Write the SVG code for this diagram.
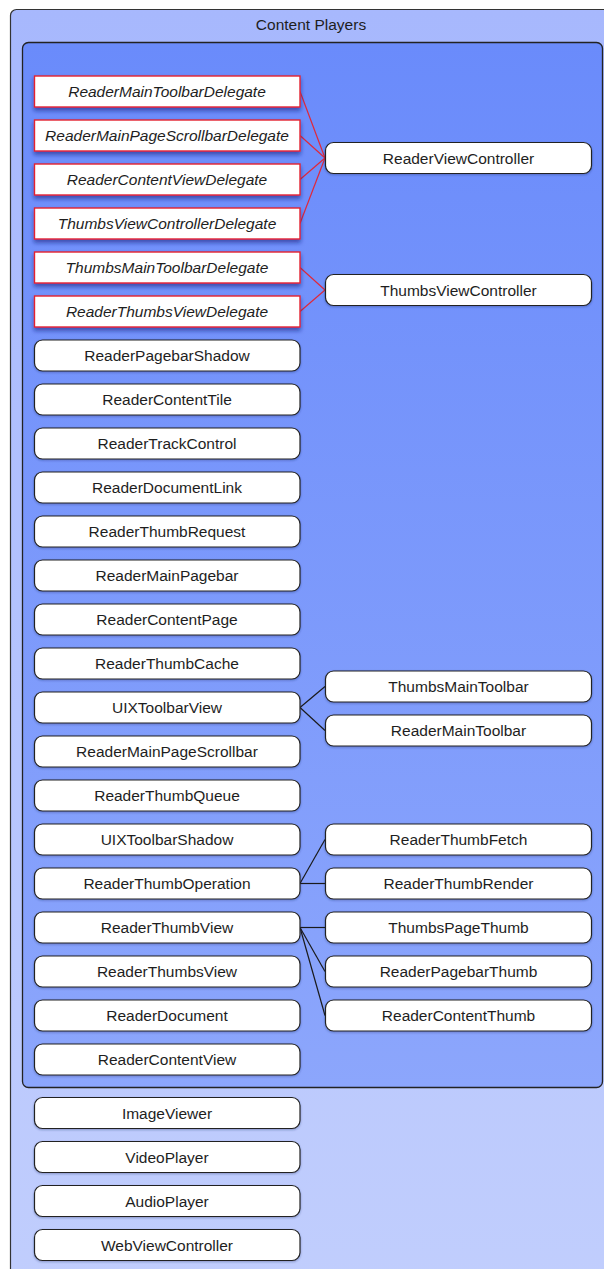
<svg xmlns="http://www.w3.org/2000/svg" width="604" height="1269" viewBox="0 0 604 1269">
  <defs>
    <linearGradient id="outerFill" x1="0" y1="0" x2="0" y2="1">
      <stop offset="0" stop-color="#a7b8fd"/>
      <stop offset="1" stop-color="#c1cefd"/>
    </linearGradient>
    <linearGradient id="innerFill" x1="0" y1="0" x2="0" y2="1">
      <stop offset="0" stop-color="#6a8bfb"/>
      <stop offset="1" stop-color="#8ca6fc"/>
    </linearGradient>
    <filter id="delegateShadow" x="-10%" y="-30%" width="120%" height="180%">
      <feDropShadow dx="0" dy="3" stdDeviation="2.2" flood-color="#14237a" flood-opacity="0.6"/>
    </filter>
    <filter id="nodeShadow" x="-10%" y="-30%" width="120%" height="180%">
      <feDropShadow dx="0" dy="1" stdDeviation="0.8" flood-color="#1a2560" flood-opacity="0.35"/>
    </filter>
  </defs>
  <style>
    text { font-family: "Liberation Sans", Arial, Helvetica, sans-serif; font-size: 15.5px; fill: #1e1e1e; text-anchor: middle; }
    .delegate rect { fill: #ffffff; stroke: #e3232f; stroke-width: 1.4; filter: url(#delegateShadow); }
    .delegate text { font-style: italic; }
    .cls rect { fill: #ffffff; stroke: #222222; stroke-width: 1.2; filter: url(#nodeShadow); }
    .red { stroke: #e0283a; stroke-width: 1.2; fill: none; }
    .blk { stroke: #1a1a1a; stroke-width: 1.2; fill: none; }
  </style>

  <!-- containers -->
  <g id="content-players">
    <rect x="10.5" y="9.5" width="640" height="1300" rx="6" fill="url(#outerFill)" stroke="#333333" stroke-width="1.2"/>
    <text x="311" y="30">Content Players</text>
  </g>
  <g id="reader-group">
    <rect x="22.5" y="42.5" width="580" height="1045" rx="6" fill="url(#innerFill)" stroke="#222222" stroke-width="1.3"/>
  </g>

  <!-- connectors -->
  <g id="connectors">
    <line class="red" x1="300" y1="91.5" x2="325" y2="158"/>
    <line class="red" x1="300" y1="135.5" x2="325" y2="158"/>
    <line class="red" x1="300" y1="179.5" x2="325" y2="158"/>
    <line class="red" x1="300" y1="223.5" x2="325" y2="158"/>
    <line class="red" x1="300" y1="267.5" x2="325" y2="290"/>
    <line class="red" x1="300" y1="311.5" x2="325" y2="290"/>
    <line class="blk" x1="300" y1="707.5" x2="325" y2="686.5"/>
    <line class="blk" x1="300" y1="707.5" x2="325" y2="730.5"/>
    <line class="blk" x1="300" y1="883.5" x2="325" y2="839.5"/>
    <line class="blk" x1="300" y1="883.5" x2="325" y2="883.5"/>
    <line class="blk" x1="300" y1="927.5" x2="325" y2="927.5"/>
    <line class="blk" x1="300" y1="927.5" x2="325" y2="971.5"/>
    <line class="blk" x1="300" y1="927.5" x2="325" y2="1015.5"/>
  </g>

  <!-- protocol delegates -->
  <g id="ReaderMainToolbarDelegate" class="delegate"><rect x="34.5" y="76" width="265.5" height="31"/><text x="167" y="97">ReaderMainToolbarDelegate</text></g>
  <g id="ReaderMainPageScrollbarDelegate" class="delegate"><rect x="34.5" y="120" width="265.5" height="31"/><text x="167" y="141">ReaderMainPageScrollbarDelegate</text></g>
  <g id="ReaderContentViewDelegate" class="delegate"><rect x="34.5" y="164" width="265.5" height="31"/><text x="167" y="185">ReaderContentViewDelegate</text></g>
  <g id="ThumbsViewControllerDelegate" class="delegate"><rect x="34.5" y="208" width="265.5" height="31"/><text x="167" y="229">ThumbsViewControllerDelegate</text></g>
  <g id="ThumbsMainToolbarDelegate" class="delegate"><rect x="34.5" y="252" width="265.5" height="31"/><text x="167" y="273">ThumbsMainToolbarDelegate</text></g>
  <g id="ReaderThumbsViewDelegate" class="delegate"><rect x="34.5" y="296" width="265.5" height="31"/><text x="167" y="317">ReaderThumbsViewDelegate</text></g>

  <!-- classes, left column -->
  <g id="ReaderPagebarShadow" class="cls"><rect x="34.5" y="340" width="265.5" height="31" rx="8"/><text x="167" y="361">ReaderPagebarShadow</text></g>
  <g id="ReaderContentTile" class="cls"><rect x="34.5" y="384" width="265.5" height="31" rx="8"/><text x="167" y="405">ReaderContentTile</text></g>
  <g id="ReaderTrackControl" class="cls"><rect x="34.5" y="428" width="265.5" height="31" rx="8"/><text x="167" y="449">ReaderTrackControl</text></g>
  <g id="ReaderDocumentLink" class="cls"><rect x="34.5" y="472" width="265.5" height="31" rx="8"/><text x="167" y="493">ReaderDocumentLink</text></g>
  <g id="ReaderThumbRequest" class="cls"><rect x="34.5" y="516" width="265.5" height="31" rx="8"/><text x="167" y="537">ReaderThumbRequest</text></g>
  <g id="ReaderMainPagebar" class="cls"><rect x="34.5" y="560" width="265.5" height="31" rx="8"/><text x="167" y="581">ReaderMainPagebar</text></g>
  <g id="ReaderContentPage" class="cls"><rect x="34.5" y="604" width="265.5" height="31" rx="8"/><text x="167" y="625">ReaderContentPage</text></g>
  <g id="ReaderThumbCache" class="cls"><rect x="34.5" y="648" width="265.5" height="31" rx="8"/><text x="167" y="669">ReaderThumbCache</text></g>
  <g id="UIXToolbarView" class="cls"><rect x="34.5" y="692" width="265.5" height="31" rx="8"/><text x="167" y="713">UIXToolbarView</text></g>
  <g id="ReaderMainPageScrollbar" class="cls"><rect x="34.5" y="736" width="265.5" height="31" rx="8"/><text x="167" y="757">ReaderMainPageScrollbar</text></g>
  <g id="ReaderThumbQueue" class="cls"><rect x="34.5" y="780" width="265.5" height="31" rx="8"/><text x="167" y="801">ReaderThumbQueue</text></g>
  <g id="UIXToolbarShadow" class="cls"><rect x="34.5" y="824" width="265.5" height="31" rx="8"/><text x="167" y="845">UIXToolbarShadow</text></g>
  <g id="ReaderThumbOperation" class="cls"><rect x="34.5" y="868" width="265.5" height="31" rx="8"/><text x="167" y="889">ReaderThumbOperation</text></g>
  <g id="ReaderThumbView" class="cls"><rect x="34.5" y="912" width="265.5" height="31" rx="8"/><text x="167" y="933">ReaderThumbView</text></g>
  <g id="ReaderThumbsView" class="cls"><rect x="34.5" y="956" width="265.5" height="31" rx="8"/><text x="167" y="977">ReaderThumbsView</text></g>
  <g id="ReaderDocument" class="cls"><rect x="34.5" y="1000" width="265.5" height="31" rx="8"/><text x="167" y="1021">ReaderDocument</text></g>
  <g id="ReaderContentView" class="cls"><rect x="34.5" y="1044" width="265.5" height="31" rx="8"/><text x="167" y="1065">ReaderContentView</text></g>

  <!-- classes, right column -->
  <g id="ReaderViewController" class="cls"><rect x="325.5" y="142.5" width="266" height="31" rx="8"/><text x="458.5" y="163.5">ReaderViewController</text></g>
  <g id="ThumbsViewController" class="cls"><rect x="325.5" y="274.5" width="266" height="31" rx="8"/><text x="458.5" y="295.5">ThumbsViewController</text></g>
  <g id="ThumbsMainToolbar" class="cls"><rect x="325.5" y="671" width="266" height="31" rx="8"/><text x="458.5" y="692">ThumbsMainToolbar</text></g>
  <g id="ReaderMainToolbar" class="cls"><rect x="325.5" y="715" width="266" height="31" rx="8"/><text x="458.5" y="736">ReaderMainToolbar</text></g>
  <g id="ReaderThumbFetch" class="cls"><rect x="325.5" y="824" width="266" height="31" rx="8"/><text x="458.5" y="845">ReaderThumbFetch</text></g>
  <g id="ReaderThumbRender" class="cls"><rect x="325.5" y="868" width="266" height="31" rx="8"/><text x="458.5" y="889">ReaderThumbRender</text></g>
  <g id="ThumbsPageThumb" class="cls"><rect x="325.5" y="912" width="266" height="31" rx="8"/><text x="458.5" y="933">ThumbsPageThumb</text></g>
  <g id="ReaderPagebarThumb" class="cls"><rect x="325.5" y="956" width="266" height="31" rx="8"/><text x="458.5" y="977">ReaderPagebarThumb</text></g>
  <g id="ReaderContentThumb" class="cls"><rect x="325.5" y="1000" width="266" height="31" rx="8"/><text x="458.5" y="1021">ReaderContentThumb</text></g>

  <!-- other players -->
  <g id="ImageViewer" class="cls"><rect x="34.5" y="1097.5" width="265.5" height="31" rx="8"/><text x="167" y="1118.5">ImageViewer</text></g>
  <g id="VideoPlayer" class="cls"><rect x="34.5" y="1141.5" width="265.5" height="31" rx="8"/><text x="167" y="1162.5">VideoPlayer</text></g>
  <g id="AudioPlayer" class="cls"><rect x="34.5" y="1185.5" width="265.5" height="31" rx="8"/><text x="167" y="1206.5">AudioPlayer</text></g>
  <g id="WebViewController" class="cls"><rect x="34.5" y="1229.5" width="265.5" height="31" rx="8"/><text x="167" y="1250.5">WebViewController</text></g>
</svg>
